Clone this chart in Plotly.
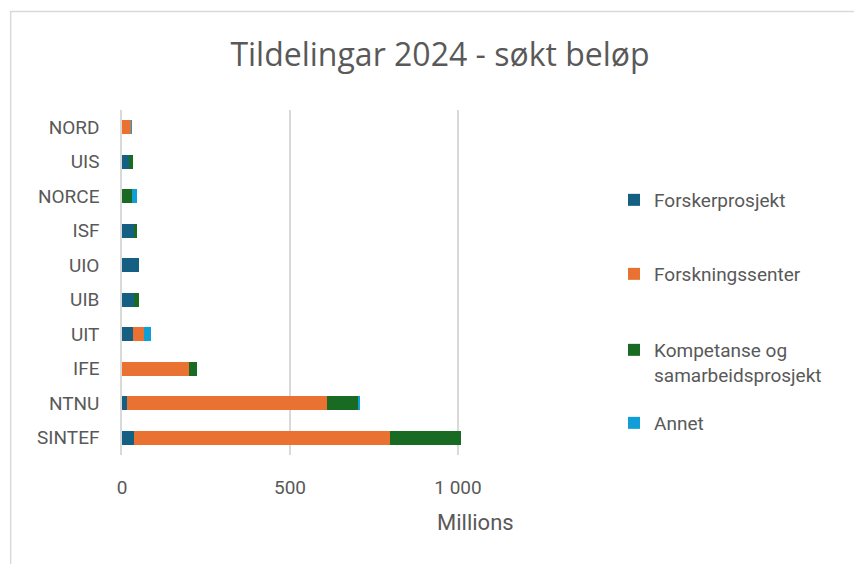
import plotly.graph_objects as go

# data (millions NOK)
categories = ["SINTEF", "NTNU", "IFE", "UIT", "UIB", "UIO", "ISF", "NORCE", "UIS", "NORD"]
forskerprosjekt = [35, 14, 0, 33, 36, 51, 36, 0, 21, 0]
forskningssenter = [762, 596, 198, 31, 0, 0, 0, 0, 0, 28]
kompetanse = [213, 95, 26, 0, 15, 0, 10, 30, 13, 0]
annet = [0, 2, 0, 23, 0, 0, 0, 15, 0, 1]

series_names = ["Forskerprosjekt", "Forskningssenter", "Kompetanse og<br>samarbeidsprosjekt", "Annet"]
tick_vals = [0, 500, 1000]
tick_text = ["0", "500", "1 000"]

colors = ["#156082", "#E97132", "#196B24", "#0F9ED5"]
text_color = "#595959"
font_family = "Roboto"

W, H = 862, 564
OFF = 8  # page body margin, so target pixel positions are shifted by this
plot_left, plot_right = 121.5 - OFF, 470 - OFF
plot_top, plot_bottom = 109.75 - OFF, 455.25 - OFF

fig = go.Figure()

legend_ids = ["legend", "legend2", "legend3", "legend4"]
for name, vals, col, lg in zip(series_names, [forskerprosjekt, forskningssenter, kompetanse, annet], colors, legend_ids):
    fig.add_trace(go.Bar(
        y=categories,
        x=vals,
        orientation='h',
        name=name,
        marker=dict(color=col, line=dict(width=0)),
        legend=lg,
    ))

# one legend box per entry so the spacing can follow the reference
legend_style = dict(
    xref='container', yref='container',
    x=(614 - OFF) / W, xanchor='left',
    font=dict(family=font_family, size=19, color=text_color),
    bgcolor='rgba(0,0,0,0)',
    borderwidth=0,
    valign='top',
)
fig.update_layout(
    legend=dict(legend_style, y=1 - (200 - OFF) / H, yanchor='middle'),
    legend2=dict(legend_style, y=1 - (274 - OFF) / H, yanchor='middle'),
    legend3=dict(legend_style, y=1 - (331 - OFF) / H, yanchor='top'),
    legend4=dict(legend_style, y=1 - (423 - OFF) / H, yanchor='middle'),
)

x_max = (plot_right - plot_left) / 0.3365

fig.update_layout(
    width=W, height=H,
    barmode='stack',
    bargap=0.6,
    paper_bgcolor='white',
    plot_bgcolor='white',
    font=dict(family=font_family, color=text_color),
    margin=dict(l=plot_left, r=W - plot_right, t=plot_top, b=H - plot_bottom, autoexpand=False),
    title=dict(
        text="Tildelingar 2024 - søkt beløp",
        xref='container', yref='container',
        x=(440 - OFF) / W, y=1 - (55 - OFF) / H,
        xanchor='center', yanchor='middle',
        font=dict(family="Open Sans", size=32, color=text_color),
    ),
    showlegend=True,
)

fig.update_xaxes(
    range=[0, x_max],
    tickvals=tick_vals,
    ticktext=tick_text,
    showgrid=True,
    gridcolor='#D9D9D9',
    gridwidth=1.5,
    zeroline=False,
    showline=False,
    ticks='',
    ticklabelstandoff=19,
    tickfont=dict(family=font_family, size=19, color=text_color),
)
fig.update_yaxes(
    categoryorder='array',
    categoryarray=categories,
    showgrid=False,
    showline=True,
    linecolor='#D9D9D9',
    linewidth=1.5,
    ticks='',
    ticklabelstandoff=17,
    tickfont=dict(family=font_family, size=19, color=text_color),
)

pw = plot_right - plot_left
ph = plot_bottom - plot_top

# display-units label under the value axis
fig.add_annotation(
    text="Millions",
    xref='paper', yref='paper',
    x=(476 - OFF - plot_left) / pw,
    y=(plot_bottom - (523 - OFF)) / ph,
    xanchor='center', yanchor='middle',
    showarrow=False,
    font=dict(family=font_family, size=22, color=text_color),
)

# chart-area border (top and left edges visible in the reference)
fig.add_shape(
    type='rect',
    xref='paper', yref='paper',
    x0=(10 - OFF - plot_left) / pw, x1=(W + 20 - plot_left) / pw,
    y0=(plot_bottom - (H + 20)) / ph, y1=(plot_bottom - (11 - OFF)) / ph,
    line=dict(color='#D9D9D9', width=1.5),
    fillcolor='rgba(0,0,0,0)',
    layer='below',
)

fig.write_html("out.html")
